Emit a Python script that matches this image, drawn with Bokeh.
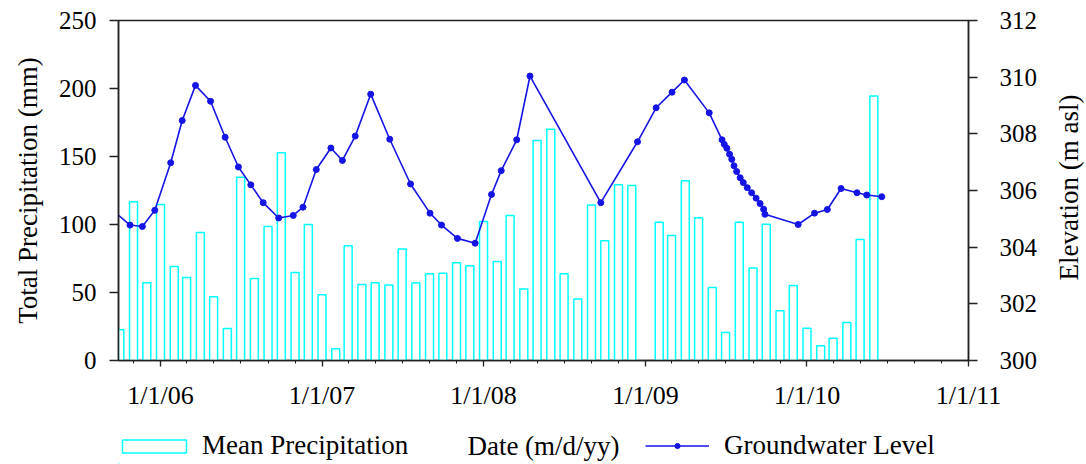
import math
import pandas as pd
from bokeh.plotting import figure
from bokeh.layouts import column, row
from bokeh.models import (Range1d, LinearAxis, FixedTicker, Legend, LegendItem,
                          ColumnDataSource, Label)
from bokeh.embed import file_html
from bokeh.resources import INLINE

# ---------------- data ----------------
bar_months = pd.date_range("2005-10-01", "2010-06-01", freq="MS").strftime("%Y-%m-%d").tolist()
precip = [22.6, 116.7, 57.1, 114.7, 69.1, 61.0, 94.1, 46.8, 23.5, 134.8, 60.3, 98.5,
          152.7, 64.7, 100.0, 48.3, 8.6, 84.3, 55.9, 57.1, 55.6, 81.9, 56.9, 63.7,
          64.2, 71.8, 69.6, 102.2, 72.8, 106.6, 52.5, 161.8, 170.1, 63.7, 45.3, 114.4,
          88.0, 129.2, 128.7, None, 101.7, 91.9, 132.1, 104.9, 53.7, 20.6, 101.7, 68.1,
          100.2, 36.5, 55.1, 23.7, 10.8, 16.4, 27.9, 89.0, 194.4]

gw_dates = ["2005-09-15", "2005-10-24", "2005-11-21", "2005-12-19", "2006-01-24", "2006-02-19",
            "2006-03-21", "2006-04-24", "2006-05-27", "2006-06-26", "2006-07-24", "2006-08-21",
            "2006-09-25", "2006-10-28", "2006-11-19", "2006-12-19", "2007-01-21", "2007-02-16",
            "2007-03-17", "2007-04-21", "2007-06-03", "2007-07-20", "2007-09-02", "2007-09-28",
            "2007-11-03", "2007-12-13", "2008-01-19", "2008-02-10", "2008-03-16", "2008-04-15",
            "2008-09-22", "2008-12-14", "2009-01-25", "2009-03-02", "2009-03-30", "2009-05-25",
            "2009-06-23", "2009-06-28", "2009-07-04", "2009-07-10", "2009-07-15", "2009-07-20",
            "2009-07-26", "2009-08-03", "2009-08-10", "2009-08-19", "2009-08-29", "2009-09-08",
            "2009-09-17", "2009-09-25", "2009-09-28", "2009-12-12", "2010-01-18", "2010-02-16",
            "2010-03-19", "2010-04-24", "2010-05-16", "2010-06-19"]
gw_elev = [305.30, 304.78, 304.73, 305.30, 306.98, 308.47,
           309.71, 309.15, 307.88, 306.83, 306.20, 305.57,
           305.03, 305.12, 305.41, 306.74, 307.50, 307.06,
           307.92, 309.40, 307.81, 306.23, 305.20, 304.78,
           304.31, 304.14, 305.86, 306.70, 307.79, 310.04,
           305.57, 307.72, 308.92, 309.47, 309.90, 308.74,
           307.79, 307.63, 307.49, 307.28, 307.10, 306.87,
           306.67, 306.45, 306.28, 306.10, 305.92, 305.73,
           305.54, 305.34, 305.16, 304.80, 305.20, 305.33,
           306.07, 305.92, 305.84, 305.78]

x_tick_dates = ["2006-01-01", "2007-01-01", "2008-01-01", "2009-01-01", "2010-01-01", "2011-01-01"]
x_tick_labels = ["1/1/06", "1/1/07", "1/1/08", "1/1/09", "1/1/10", "1/1/11"]
x_minor_dates = pd.date_range("2005-11-01", "2011-01-01", freq="2MS").strftime("%Y-%m-%d").tolist()
left_ticks = [0, 50, 100, 150, 200, 250]
right_ticks = [300, 302, 304, 306, 308, 310, 312]

FONT = "Liberation Serif"
DAY = 86400000
BAR_LINE = "#00FFFF"
GW_COLOR = "#1414E6"
AX_COLOR = "#222222"

# layout (pixels)
W = 1086
W_RT = 40
W_MAIN = W - W_RT
H_MAIN = 427
H_LEG = 37
F_LEFT, F_RIGHT, F_TOP, F_BOTTOM = 118, 968, 20, 360


def ms(s):
    return int(pd.Timestamp(s).value // 10**6)


bar_src = ColumnDataSource(dict(x=pd.to_datetime(bar_months),
                                top=[float("nan") if v is None else v for v in precip]))
gw_src = ColumnDataSource(dict(x=pd.to_datetime(gw_dates), y=gw_elev))

p = figure(width=W_MAIN, height=H_MAIN, x_axis_type="datetime",
           x_range=Range1d(ms("2005-09-28"), ms("2011-01-01")),
           y_range=Range1d(0, 250),
           output_backend="svg", toolbar_location=None,
           min_border_left=F_LEFT, min_border_right=W_MAIN - F_RIGHT,
           min_border_top=F_TOP, min_border_bottom=H_MAIN - F_BOTTOM)
p.extra_y_ranges = {"elev": Range1d(300, 312)}
p.xgrid.visible = False
p.ygrid.visible = False
p.outline_line_color = AX_COLOR
p.outline_line_width = 1.5
p.background_fill_color = "white"
p.border_fill_color = "white"

bars = p.vbar(x="x", top="top", width=18 * DAY, source=bar_src,
              fill_color="white", line_color=BAR_LINE, line_width=1.5)
line = p.line(x="x", y="y", source=gw_src, y_range_name="elev",
              line_color=GW_COLOR, line_width=1.6)
pts = p.scatter(x="x", y="y", source=gw_src, y_range_name="elev",
                size=6, fill_color=GW_COLOR, line_color=GW_COLOR)

# axes
xa = p.xaxis[0]
xa.ticker = FixedTicker(ticks=[ms(d) for d in x_tick_dates],
                        minor_ticks=[ms(d) for d in x_minor_dates])
xa.major_label_overrides = {ms(d): lab for d, lab in zip(x_tick_dates, x_tick_labels)}
xa.major_tick_in = 0
xa.major_tick_out = 6
xa.minor_tick_in = 0
xa.minor_tick_out = 3
xa.major_label_standoff = 14

ya = p.yaxis[0]
ya.ticker = FixedTicker(ticks=left_ticks)
ya.axis_label = "Total Precipitation (mm)"
ya.major_tick_in = 0
ya.major_tick_out = 9
ya.minor_tick_out = 0
ya.minor_tick_in = 0
ya.major_label_standoff = 13
ya.axis_label_standoff = 13

ra = LinearAxis(y_range_name="elev", ticker=FixedTicker(ticks=right_ticks))
ra.major_tick_in = 0
ra.major_tick_out = 9
ra.minor_tick_out = 0
ra.minor_tick_in = 0
ra.major_label_standoff = 22
p.add_layout(ra, "right")

for ax in (xa, ya, ra):
    ax.axis_line_color = AX_COLOR
    ax.axis_line_width = 1.5
    ax.major_tick_line_color = AX_COLOR
    ax.major_tick_line_width = 1.3
    ax.minor_tick_line_color = AX_COLOR
    ax.minor_tick_line_width = 1.1
    ax.major_label_text_font = FONT
    ax.major_label_text_color = "black"
    ax.axis_label_text_font = FONT
    ax.axis_label_text_font_style = "normal"
    ax.axis_label_text_font_size = "27px"
    ax.axis_label_text_color = "black"
xa.major_label_text_font_size = "26px"
ya.major_label_text_font_size = "25px"
ra.major_label_text_font_size = "25px"

# ---------------- right title strip (reads bottom-to-top) ----------------
rt = figure(width=W_RT, height=H_MAIN, x_range=Range1d(0, W_RT),
            y_range=Range1d(F_BOTTOM, F_TOP),
            output_backend="svg", toolbar_location=None,
            min_border_left=0, min_border_right=0,
            min_border_top=F_TOP, min_border_bottom=H_MAIN - F_BOTTOM)
rt.axis.visible = False
rt.xgrid.visible = False
rt.ygrid.visible = False
rt.outline_line_color = None
rt.background_fill_color = "white"
rt.border_fill_color = "white"
rt.add_layout(Label(x=22, y=(F_TOP + F_BOTTOM) / 2 - 3, text="Elevation (m asl)", angle=math.pi / 2,
                    text_align="center", text_baseline="middle", text_font=FONT,
                    text_font_size="27px", text_color="black"))

# ---------------- legend strip (below the plot) ----------------
leg = figure(width=W, height=H_LEG, x_range=Range1d(F_LEFT, F_RIGHT), y_range=Range1d(0, H_LEG),
             output_backend="svg", toolbar_location=None,
             min_border_left=F_LEFT, min_border_right=W - F_RIGHT,
             min_border_top=0, min_border_bottom=0)
leg.axis.visible = False
leg.xgrid.visible = False
leg.ygrid.visible = False
leg.outline_line_color = None
leg.background_fill_color = "white"
leg.border_fill_color = "white"

# off-screen proxies so the legend keys get drawn
k_bar = leg.vbar(x=[-5000], top=[1], width=1, fill_color="white", line_color=BAR_LINE, line_width=1.5)
k_line = leg.line(x=[-5000, -4999], y=[-5000, -5000], line_color=GW_COLOR, line_width=1.6)
k_pts = leg.scatter(x=[-5000], y=[-5000], size=6, fill_color=GW_COLOR, line_color=GW_COLOR)

common = dict(padding=0, margin=0, border_line_alpha=0, background_fill_alpha=0,
              label_text_font=FONT, label_text_font_size="27px", label_text_color="black",
              orientation="horizontal")
leg1 = Legend(items=[LegendItem(label="Mean Precipitation", renderers=[k_bar])],
              location=(114 - F_LEFT, 3), glyph_width=80, glyph_height=16, label_standoff=8,
              **common)
leg2 = Legend(items=[LegendItem(label="Groundwater Level", renderers=[k_line, k_pts])],
              location=(645 - F_LEFT, 3), glyph_width=64, glyph_height=13, label_standoff=15,
              **common)
leg.add_layout(leg1)
leg.add_layout(leg2)
leg.add_layout(Label(x=(F_LEFT + F_RIGHT) / 2, y=19, text="Date (m/d/yy)", text_align="center",
                     text_baseline="middle", text_font=FONT, text_font_size="27px",
                     text_color="black"))

layout = column(row(p, rt, spacing=0), leg, spacing=0)
open("out.html", "w").write(file_html(layout, INLINE))
